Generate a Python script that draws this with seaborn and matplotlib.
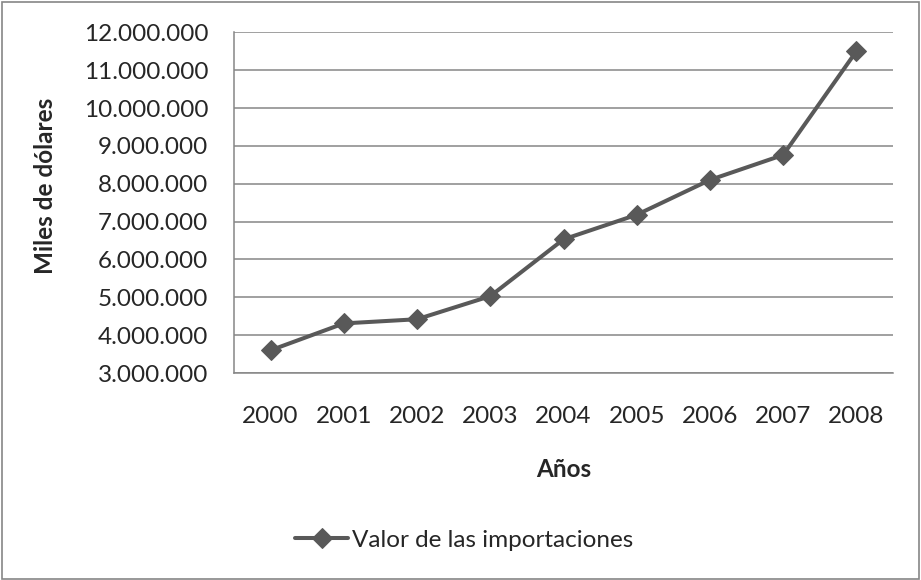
import numpy as np
import pandas as pd
import seaborn as sns
import matplotlib.pyplot as plt
from matplotlib.patches import Rectangle
from matplotlib.ticker import FuncFormatter, MultipleLocator

years = ["2000", "2001", "2002", "2003", "2004", "2005", "2006", "2007", "2008"]
importaciones = [3600000, 4310000, 4420000, 5030000, 6530000, 7180000, 8100000, 8760000, 11500000]
serie = "Valor de las importaciones"

df = pd.DataFrame({"Año": years, "Valor": importaciones})

sns.set_style("white")
plt.rcParams['font.family'] = ['Lato', 'DejaVu Sans']

grey = "#868686"
line_col = "#595959"
fs = 17.5

fig = plt.figure(figsize=(9.21, 5.80), dpi=100)
ax = fig.add_axes([234/921, 1-373/580, 659/921, 340.7/580])

sns.lineplot(data=df, x="Año", y="Valor", ax=ax, color=line_col, linewidth=2.9,
             marker="D", markersize=10, markeredgecolor=line_col, label=serie, sort=False)

ax.set_xlim(-0.5, 8.5)
ax.set_ylim(3000000, 12000000)
ax.yaxis.set_major_locator(MultipleLocator(1000000))
ax.yaxis.set_major_formatter(FuncFormatter(lambda v, p: f"{v:,.0f}".replace(",", ".")))

ax.grid(axis="y", color=grey, linewidth=1.1)
ax.set_axisbelow(True)
for s in ["top", "right"]:
    ax.spines[s].set_visible(False)
for s in ["left", "bottom"]:
    ax.spines[s].set_color(grey)
    ax.spines[s].set_linewidth(1.1)

ax.tick_params(axis="y", direction="out", length=6.5, width=1.1, color=grey, pad=12, labelsize=fs)
ax.tick_params(axis="x", length=0, pad=24, labelsize=fs)

ax.set_xlabel("Años", fontsize=fs, fontweight="bold")
ax.set_ylabel("Miles de dólares", fontsize=fs, fontweight="bold")
ax.xaxis.set_label_coords(0.5, -0.25)
ax.yaxis.set_label_coords(-0.268, 0.55)

ax.legend_.remove()
h, l = ax.get_legend_handles_labels()
fig.legend(h, l, loc="center", bbox_to_anchor=(464/921, 1-540/580), frameon=False,
           fontsize=fs, handlelength=2.2, handletextpad=0.15)

fig.patches.append(Rectangle((0.002, 0.002), 0.996, 0.994, transform=fig.transFigure,
                             fill=False, edgecolor=grey, linewidth=1.2))

fig.savefig("out.png", dpi=100)
